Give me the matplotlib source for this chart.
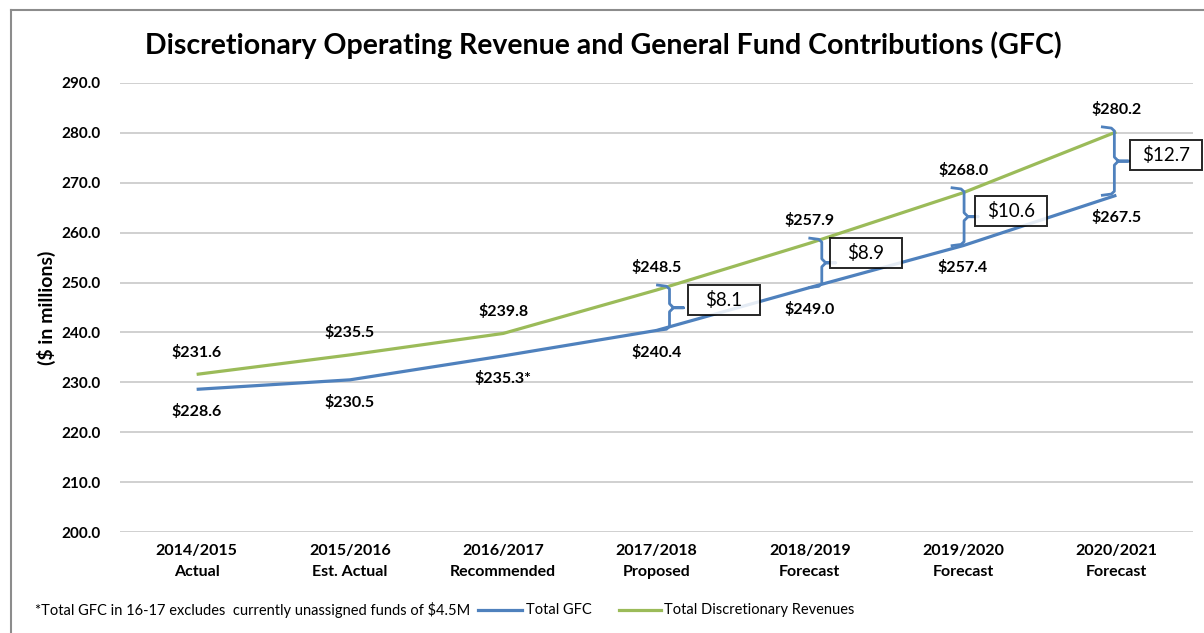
import matplotlib
matplotlib.use('Agg')
import matplotlib.pyplot as plt
from matplotlib.lines import Line2D
from matplotlib.patches import Rectangle
import numpy as np

plt.rcParams['font.family'] = ['Lato', 'DejaVu Sans']

# data
years = ['2014/2015', '2015/2016', '2016/2017', '2017/2018', '2018/2019', '2019/2020', '2020/2021']
stages = ['Actual', 'Est. Actual', 'Recommended', 'Proposed', 'Forecast', 'Forecast', 'Forecast']
total_gfc = [228.6, 230.5, 235.3, 240.4, 249.0, 257.4, 267.5]
total_disc = [231.6, 235.5, 239.8, 248.5, 257.9, 268.0, 280.2]
gfc_labels = ['$228.6', '$230.5', '$235.3*', '$240.4', '$249.0', '$257.4', '$267.5']
disc_labels = ['$231.6', '$235.5', '$239.8', '$248.5', '$257.9', '$268.0', '$280.2']
gap_idx = [3, 4, 5, 6]
gap_labels = ['$8.1', '$8.9', '$10.6', '$12.7']

BLUE = '#4F81BD'
GREEN = '#9BBB59'

W, H = 1204, 633
fig = plt.figure(figsize=(W / 100, H / 100), dpi=100)
ax_l, ax_r, ax_t, ax_b = 120, 1193, 83, 532
ax = fig.add_axes([ax_l / W, 1 - ax_b / H, (ax_r - ax_l) / W, (ax_b - ax_t) / H])

x = np.arange(len(years))
ax.plot(x, total_gfc, color=BLUE, lw=2.3, solid_capstyle='butt', zorder=3)
ax.plot(x, total_disc, color=GREEN, lw=2.3, solid_capstyle='butt', zorder=3)

ax.set_xlim(-0.5, len(years) - 0.5)
ax.set_ylim(200, 290)
ax.set_yticks(np.arange(200, 291, 10))
ax.set_yticklabels([f'{v:.1f}' for v in np.arange(200, 291, 10)], fontsize=11, fontweight='bold')
ax.set_xticks(x)
ax.set_xticklabels([f'{a}\n{b}' for a, b in zip(years, stages)], fontsize=11.5,
                   fontweight='bold', linespacing=1.55)
ax.tick_params(axis='both', length=0)
ax.tick_params(axis='y', pad=14)
ax.tick_params(axis='x', pad=9)
ax.grid(axis='y', color='#c8c8c8', lw=1.2)
ax.set_axisbelow(True)
for s in ax.spines.values():
    s.set_visible(False)
ax.set_ylabel('($ in millions)', fontsize=14, fontweight='bold', labelpad=4)

# data labels
for i in x:
    ax.annotate(disc_labels[i], (i, total_disc[i]), xytext=(0, 16), textcoords='offset points',
                ha='center', va='center', fontsize=11.5, fontweight='bold')
    ax.annotate(gfc_labels[i], (i, total_gfc[i]), xytext=(0, -16), textcoords='offset points',
                ha='center', va='center', fontsize=11.5, fontweight='bold')

# braces and gap boxes
px_x = (ax_r - ax_l) / 7.0   # pixels per category
px_y = (ax_b - ax_t) / 90.0  # pixels per unit
brace_dx = [13, 12, 1, -2]           # brace offset from category (px)
box_dx = [67, 56, 48, 50]             # box centre offset from category (px)
box_dy = [8, 10, 6, 6]               # box centre offset above brace tip (px)
for k, i in enumerate(gap_idx):
    top, bot = total_disc[i] + 1.0, total_gfc[i]
    mid = (top + bot) / 2
    bx = i + brace_dx[k] / px_x
    hw = 12 / px_x
    tw = 14 / px_x
    r = 4 / px_y
    xs = [bx - hw, bx - 3 / px_x, bx, bx, bx + 4 / px_x, bx + tw, bx + 4 / px_x, bx, bx, bx - 3 / px_x, bx - hw]
    ys = [top, top - 0.3 * r, top - r, mid + r, mid, mid, mid, mid - r, bot + r, bot + 0.3 * r, bot]
    ax.plot(xs, ys, color=BLUE, lw=2.0, zorder=4, solid_joinstyle='round')
    cx = i + box_dx[k] / px_x
    cy = mid + box_dy[k] / px_y
    bw, bh = 72 / px_x, 30 / px_y
    ax.add_patch(Rectangle((cx - bw / 2, cy - bh / 2), bw, bh, facecolor='white', edgecolor='black',
                           lw=1.4, alpha=0.85, zorder=5, clip_on=False))
    ax.text(cx, cy, gap_labels[k], ha='center', va='center', fontsize=13.5, zorder=6)

# title
fig.text(603 / W, 1 - 45 / H, 'Discretionary Operating Revenue and General Fund Contributions (GFC)',
         ha='center', va='center', fontsize=20.5, fontweight='bold')

# footnote and legend
ly = 1 - 610 / H
fig.text(35 / W, ly, '*Total GFC in 16-17 excludes  currently unassigned funds of $4.5M',
         ha='left', va='center', fontsize=10.5)
fig.add_artist(Line2D([478 / W, 522 / W], [ly, ly], color=BLUE, lw=2.3))
fig.text(526 / W, ly, 'Total GFC', ha='left', va='center', fontsize=10.5)
fig.add_artist(Line2D([619 / W, 661 / W], [ly, ly], color=GREEN, lw=2.3))
fig.text(664 / W, ly, 'Total Discretionary Revenues', ha='left', va='center', fontsize=10.5)

# chart frame
fig.add_artist(Line2D([11 / W, 11 / W], [0, 1 - 10 / H], color='#8c8c8c', lw=1.5))
fig.add_artist(Line2D([11 / W, 1], [1 - 10 / H, 1 - 10 / H], color='#8c8c8c', lw=1.5))

fig.savefig('out.png', dpi=100)
